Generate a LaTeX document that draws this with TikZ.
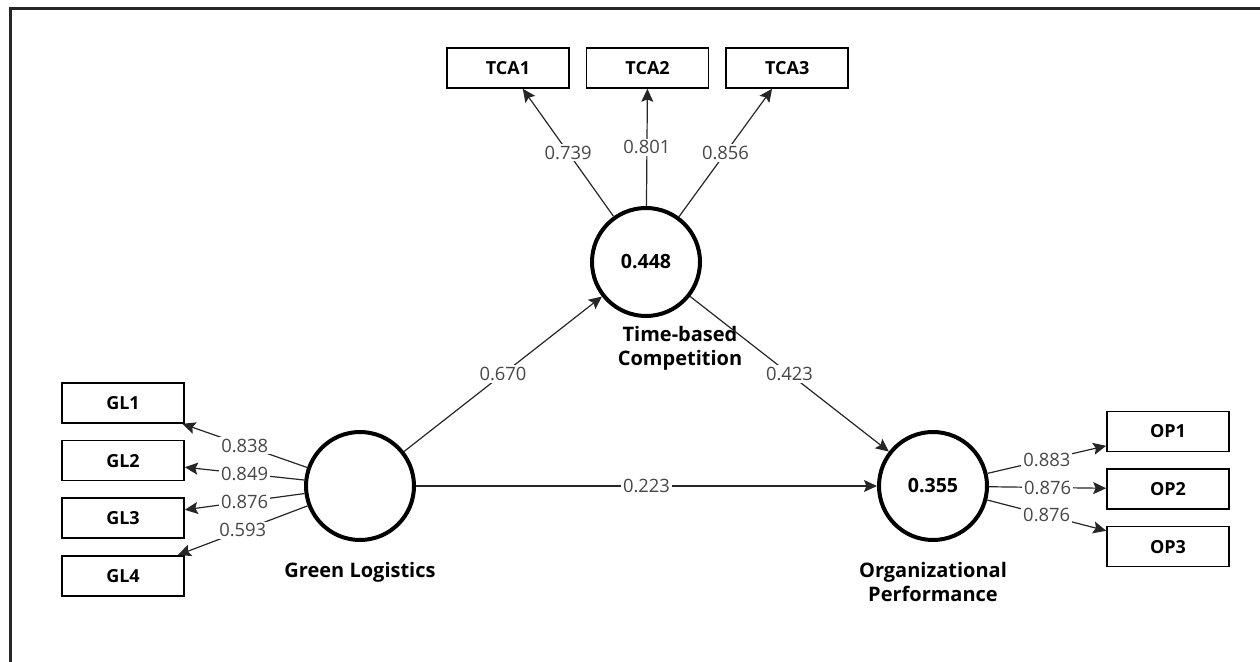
\documentclass[tikz,border=0pt]{standalone}
\usepackage{fontspec}
\setmainfont{Open Sans}
\usetikzlibrary{arrows.meta, positioning}

\begin{document}
\begin{tikzpicture}[
    x=0.5pt, y=-0.5pt,
    node distance=8pt,
    every node/.style={font=\small},
    indicator/.style={draw, line width=0.8pt, minimum width=61pt, minimum height=20pt,
                      inner sep=0pt, font=\fontsize{9}{10}\selectfont\bfseries},
    construct/.style={circle, draw, line width=2pt, minimum size=54pt, inner sep=0pt,
                      font=\fontsize{9.8}{10}\selectfont\bfseries},
    cname/.style={align=center, inner sep=1pt, font=\fontsize{10}{12}\selectfont\bfseries},
    link/.style={draw=black!85, line width=0.6pt,
                 -{Stealth[length=6.5pt, width=6pt, inset=1.2pt]}},
    coef/.style={fill=white, inner sep=1pt, text=black!72, font=\fontsize{9.2}{10}\selectfont}
  ]
    \useasboundingbox (0,0) rectangle (1260,662);
    \draw[line width=1.5pt, black!85] (10,662) -- (10,9) -- (1260,9);

    % constructs
    \node[construct] (gl) at (360,486) {};
    \node[construct] (tca) at (646,262) {0.448};
    \node[construct] (op) at (933,486) {0.355};

    \node[cname, below=9pt of gl] (glname) {Green Logistics};
    \node[cname, below=3pt of tca.south, xshift=17pt] (tcaname) {Time-based\\Competition};
    \node[cname, below=9pt of op] (opname) {Organizational\\Performance};

    % indicators
    \node[indicator] (gl1) at (123,403) {GL1};
    \node[indicator, below=of gl1] (gl2) {GL2};
    \node[indicator, below=of gl2] (gl3) {GL3};
    \node[indicator, below=of gl3] (gl4) {GL4};

    \node[indicator] (tca1) at (508,68) {TCA1};
    \node[indicator, right=of tca1] (tca2) {TCA2};
    \node[indicator, right=of tca2] (tca3) {TCA3};

    \node[indicator] (op1) at (1168,431.5) {OP1};
    \node[indicator, below=of op1] (op2) {OP2};
    \node[indicator, below=of op2] (op3) {OP3};

    % loadings
    \foreach \i/\v in {1/0.838, 2/0.849, 3/0.876, 4/0.593}
      \draw[link] (gl) -- node[coef] {\v} (gl\i);
    \foreach \i/\v in {1/0.739, 2/0.801, 3/0.856}
      \draw[link] (tca) -- node[coef] {\v} (tca\i);
    \foreach \i/\v in {1/0.883, 2/0.876, 3/0.876}
      \draw[link] (op) -- node[coef] {\v} (op\i);

    % paths
    \draw[link] (gl) -- node[coef] {0.670} (tca);
    \draw[link] (tca) -- node[coef] {0.423} (op);
    \draw[link] (gl) -- node[coef] {0.223} (op);
  \end{tikzpicture}
\end{document}
